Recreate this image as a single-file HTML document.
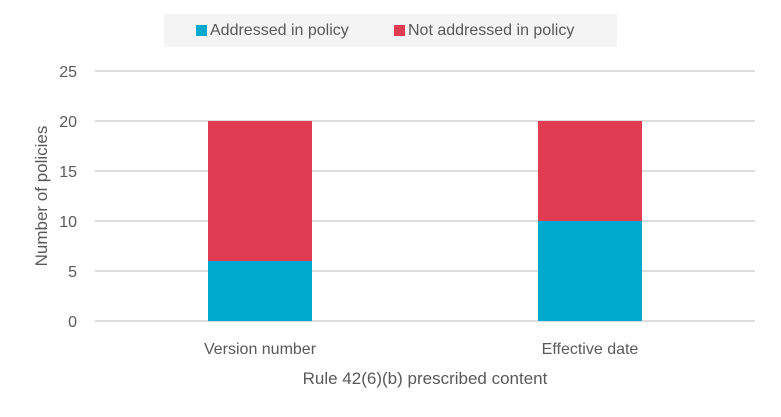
<!DOCTYPE html>
<html><head><meta charset="utf-8"><style>
body{margin:0;background:#fff;}
svg{display:block;font-family:"Liberation Sans",sans-serif;}
</style></head><body>
<svg id="chart" width="781" height="417" viewBox="0 0 781 417">
<rect x="164" y="14" width="453" height="33" fill="#f4f4f4"/>
<g>
<rect x="196" y="25" width="11" height="11" fill="#00a9ce"/>
<text x="210" y="35" font-size="16" fill="#595959">Addressed in policy</text>
</g>
<g>
<rect x="394" y="25" width="11" height="11" fill="#e03c52"/>
<text x="408" y="35" font-size="16" fill="#595959">Not addressed in policy</text>
</g>
<g id="grid"></g>
<g id="yticks"></g>
<g id="bars"></g>
<g id="xlabels"></g>
<text x="0" y="0" transform="translate(47,196) rotate(-90)" text-anchor="middle" font-size="17" fill="#595959">Number of policies</text>
<text x="425" y="384" text-anchor="middle" font-size="17" fill="#595959">Rule 42(6)(b) prescribed content</text>
</svg>
<script>
const categories = ["Version number", "Effective date"];
const addressed = [6, 10];
const notAddressed = [14, 10];
const yTicks = [0, 5, 10, 15, 20, 25];
const ns = "http://www.w3.org/2000/svg";
const x0 = 95, x1 = 755, yBase = 321, yTop = 71, yMax = 25;
const y = v => yBase - (v / yMax) * (yBase - yTop);
const bandW = (x1 - x0) / categories.length;
const barW = 104;
function mk(tag, attrs, parent){const e=document.createElementNS(ns,tag);for(const k in attrs)e.setAttribute(k,attrs[k]);parent.appendChild(e);return e;}
const grid=document.getElementById('grid'), yt=document.getElementById('yticks'), bars=document.getElementById('bars'), xl=document.getElementById('xlabels');
yTicks.forEach(t=>{
  const l=mk('line',{x1:x0,x2:x1,y1:y(t),y2:y(t),stroke:'#d0d0d0','stroke-width':1.5},grid);
  
  
  const tx=mk('text',{x:77,y:y(t)+6,'text-anchor':'end','font-size':16,fill:'#595959'},yt);
  tx.textContent=t;
  
  
});
categories.forEach((c,i)=>{
  const cx=x0+bandW*(i+0.5);
  const a=mk('rect',{x:cx-barW/2,y:y(addressed[i]),width:barW,height:yBase-y(addressed[i]),fill:'#00a9ce'},bars);
  
  
  const tot=addressed[i]+notAddressed[i];
  const n=mk('rect',{x:cx-barW/2,y:y(tot),width:barW,height:y(addressed[i])-y(tot),fill:'#e03c52'},bars);
  
  
  const t=mk('text',{x:cx,y:354,'text-anchor':'middle','font-size':16,fill:'#595959'},xl);
  t.textContent=c;
  
  
});
</script>
</body></html>
